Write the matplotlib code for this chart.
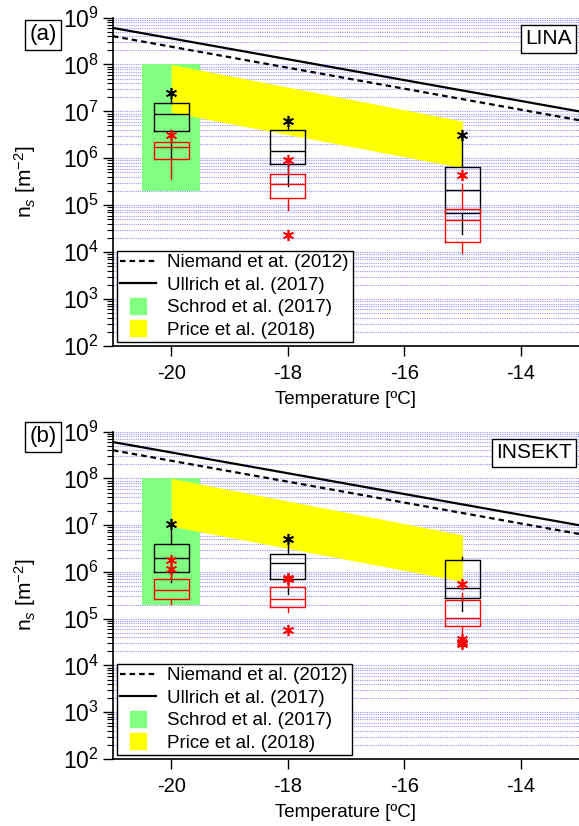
import matplotlib
matplotlib.use('Agg')
import matplotlib.pyplot as plt
from matplotlib.lines import Line2D
from matplotlib.ticker import LogLocator, NullFormatter

plt.rcParams['font.family'] = ['Liberation Sans', 'DejaVu Sans']
plt.rcParams['mathtext.fontset'] = 'custom'
plt.rcParams['mathtext.rm'] = 'Liberation Sans'
plt.rcParams['mathtext.it'] = 'Liberation Sans:italic'

# temperatures of the box plots [degC]
temps = [-20, -18, -15]

# LINA, black boxes
lina_k_med = [8.6e6, 1.43e6, 2.07e5]
lina_k_q1 = [3.9e6, 7.4e5, 6.7e4]
lina_k_q3 = [1.48e7, 4.1e6, 6.4e5]
lina_k_lo = [1.0e6, 2.6e5, 2.4e4]
lina_k_hi = [1.8e7, 4.9e6, 2.6e6]
lina_k_fl = [[2.5e7], [6.3e6], [3.2e6]]
# LINA, red boxes
lina_r_med = [1.7e6, 2.8e5, 4.8e4]
lina_r_q1 = [9.5e5, 1.4e5, 1.65e4]
lina_r_q3 = [2.2e6, 4.6e5, 8.5e4]
lina_r_lo = [3.7e5, 7.9e4, 9.8e3]
lina_r_hi = [2.6e6, 6.5e5, 2.8e5]
lina_r_fl = [[3.1e6], [9.0e5, 2.3e4], [4.5e5]]

# INSEKT, black boxes
ins_k_med = [2.0e6, 1.55e6, 4.5e5]
ins_k_q1 = [1.0e6, 7.0e5, 2.78e5]
ins_k_q3 = [4.05e6, 2.45e6, 1.84e6]
ins_k_lo = [6.1e5, 3.3e5, 1.44e5]
ins_k_hi = [7.9e6, 3.8e6, 2.1e6]
ins_k_fl = [[1.05e7], [5.1e6], []]
# INSEKT, red boxes
ins_r_med = [4.1e5, 2.64e5, 1.04e5]
ins_r_q1 = [2.7e5, 1.75e5, 6.9e4]
ins_r_q3 = [7.0e5, 4.8e5, 2.55e5]
ins_r_lo = [2.07e5, 1.4e5, 5.0e4]
ins_r_hi = [9.0e5, 6.0e5, 3.5e5]
ins_r_fl = [[1.76e6, 1.17e6], [7.4e5, 6.9e5, 5.7e4], [5.5e5, 3.7e4, 3.2e4, 2.9e4]]

# parameterisations
line_t = [-21, -13]
niemand = [4.0e8, 6.5e6]
ullrich = [6.0e8, 1.0e7]
schrod_t = [-20.5, -19.5]
schrod_lo = [2e5, 2e5]
schrod_hi = [1e8, 1e8]
price_t = [-20, -15]
price_lo = [9.5e6, 6.3e5]
price_hi = [1e8, 6.2e6]

x_ticks = [-20, -18, -16, -14]
y_ticks = [1e2, 1e3, 1e4, 1e5, 1e6, 1e7, 1e8, 1e9]

GREEN = '#80ff80'
YELLOW = '#ffff00'
ASTER = (6, 2, 0)


def boxStats(med, q1, q3, lo, hi, fl):
    return [dict(med=m, q1=a, q3=b, whislo=l, whishi=h, fliers=f)
            for m, a, b, l, h, f in zip(med, q1, q3, lo, hi, fl)]


def drawBoxes(ax, stats, color, z):
    props = dict(color=color, linewidth=1.0)
    ax.bxp(stats, positions=temps, widths=0.6, showcaps=False,
           boxprops=props, whiskerprops=props, medianprops=props,
           flierprops=dict(marker=ASTER, markeredgecolor=color, markerfacecolor=color,
                           markersize=8, markeredgewidth=1.2, linestyle='none'),
           manage_ticks=False, zorder=z)


def drawPanel(ax, kStats, rStats, niemandLabel, name):
    ax.set_yscale('log')
    ax.set_xlim(-21, -13)
    ax.set_ylim(1e2, 1e9)

    # grid on every decade step
    ax.set_axisbelow(True)
    ax.yaxis.set_major_locator(LogLocator(base=10, numticks=20))
    ax.yaxis.set_minor_locator(LogLocator(base=10, subs=range(2, 10), numticks=20))
    ax.yaxis.set_minor_formatter(NullFormatter())
    ax.grid(True, axis='y', which='both', color='#4040ff', alpha=0.55,
            linestyle=(0, (1, 1)), linewidth=0.8)

    ax.fill_between(schrod_t, schrod_lo, schrod_hi, color=GREEN, linewidth=0, zorder=1)
    ax.fill_between(price_t, price_lo, price_hi, color=YELLOW, linewidth=0, zorder=1.1)
    ax.plot(line_t, niemand, color='k', linewidth=1.6, dashes=(2.5, 1.8), zorder=3)
    ax.plot(line_t, ullrich, color='k', linewidth=1.6, zorder=3)

    drawBoxes(ax, kStats, 'k', 4)
    drawBoxes(ax, rStats, 'r', 5)

    ax.set_xticks(x_ticks)
    ax.set_xticklabels([str(t) for t in x_ticks])
    ax.set_yticks(y_ticks)
    ax.set_yticklabels(['$10^{%d}$' % i for i in range(2, 10)])
    ax.tick_params(axis='x', direction='out', length=7, width=1, labelsize=14.5, pad=6)
    ax.tick_params(axis='y', which='major', direction='out', length=7, width=1,
                   labelsize=16.5, pad=3)
    ax.tick_params(axis='y', which='minor', direction='out', length=4, width=0.8)
    for side in ('top', 'right'):
        ax.spines[side].set_visible(False)
    for side in ('left', 'bottom'):
        ax.spines[side].set_linewidth(1.2)

    ax.set_xlabel('Temperature [ºC]', fontsize=13.5, labelpad=6)
    ax.set_ylabel('n$_s$ [m$^{-2}$]', fontsize=15)
    ax.yaxis.set_label_coords(-0.16, 0.5)

    handles = [
        Line2D([], [], color='k', linewidth=1.6, dashes=(2.5, 1.8)),
        Line2D([], [], color='k', linewidth=1.6),
        Line2D([], [], linestyle='none', marker='s', markersize=12,
               markerfacecolor=GREEN, markeredgecolor=GREEN),
        Line2D([], [], linestyle='none', marker='s', markersize=12,
               markerfacecolor=YELLOW, markeredgecolor=YELLOW),
    ]
    labels = [niemandLabel, 'Ullrich et al. (2017)', 'Schrod et al. (2017)', 'Price et al. (2018)']
    leg = ax.legend(handles, labels, loc='lower left', fontsize=13.5, fancybox=False,
                    framealpha=1, edgecolor='k', borderaxespad=0.2, handlelength=1.9,
                    handletextpad=0.6, labelspacing=0.28, borderpad=0.2)
    leg.get_frame().set_linewidth(1.0)
    leg.set_zorder(10)

    ax.text(0.985, 0.935, name, transform=ax.transAxes, ha='right', va='center',
            fontsize=15, zorder=11,
            bbox=dict(facecolor='white', edgecolor='k', boxstyle='square,pad=0.2', linewidth=1.0))


fig = plt.figure(figsize=(5.79, 8.26), dpi=100)
axA = fig.add_axes([0.195, 0.5811, 0.805, 0.3977])
axB = fig.add_axes([0.195, 0.0811, 0.805, 0.3963])

drawPanel(axA,
          boxStats(lina_k_med, lina_k_q1, lina_k_q3, lina_k_lo, lina_k_hi, lina_k_fl),
          boxStats(lina_r_med, lina_r_q1, lina_r_q3, lina_r_lo, lina_r_hi, lina_r_fl),
          'Niemand et at. (2012)', 'LINA')
drawPanel(axB,
          boxStats(ins_k_med, ins_k_q1, ins_k_q3, ins_k_lo, ins_k_hi, ins_k_fl),
          boxStats(ins_r_med, ins_r_q1, ins_r_q3, ins_r_lo, ins_r_hi, ins_r_fl),
          'Niemand et al. (2012)', 'INSEKT')

boxStyle = dict(facecolor='white', edgecolor='k', boxstyle='square,pad=0.2', linewidth=1.0)
fig.text(0.074, 0.958, '(a)', fontsize=16, ha='center', va='center', bbox=boxStyle)
fig.text(0.074, 0.471, '(b)', fontsize=16, ha='center', va='center', bbox=boxStyle)

fig.savefig('out.png', dpi=100)
